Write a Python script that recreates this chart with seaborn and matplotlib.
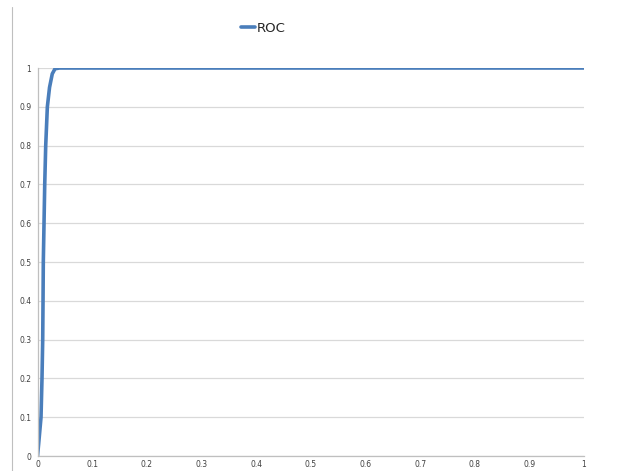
import numpy as np
import pandas as pd
import matplotlib
matplotlib.use("Agg")
import matplotlib.pyplot as plt
from matplotlib.lines import Line2D
import seaborn as sns

# ROC curve
fpr = [0, 0.002, 0.0064, 0.0082, 0.0095, 0.0101, 0.0106, 0.0119, 0.0132,
       0.015, 0.018, 0.022, 0.027, 0.032, 0.04, 1.0]
tpr = [0, 0.03, 0.1, 0.2, 0.3, 0.4, 0.5, 0.6, 0.7,
       0.8, 0.9, 0.95, 0.985, 0.998, 1.0, 1.0]
xticks = [0, 0.1, 0.2, 0.3, 0.4, 0.5, 0.6, 0.7, 0.8, 0.9, 1]
xtick_labels = ["0", "0.1", "0.2", "0.3", "0.4", "0.5", "0.6", "0.7", "0.8", "0.9", "1"]
yticks = xticks
ytick_labels = xtick_labels

sns.set_style("white")
plt.rcParams['font.family'] = ['DejaVu Sans']

df = pd.DataFrame({"fpr": fpr, "tpr": tpr})

fig = plt.figure(figsize=(6.38, 4.71), dpi=100)
ax = fig.add_axes([0.0588, 0.0318, 0.9154 - 0.0588, 0.8556 - 0.0318])

blue = "#4a7ebb"
sns.lineplot(data=df, x="fpr", y="tpr", ax=ax, sort=False, estimator=None,
             color=blue, linewidth=2.6, solid_capstyle="round", label="ROC")

ax.set_xlim(0, 1)
ax.set_ylim(0, 1)
ax.set_xticks(xticks)
ax.set_xticklabels(xtick_labels)
ax.set_yticks(yticks)
ax.set_yticklabels(ytick_labels)
ax.set_xlabel("")
ax.set_ylabel("")
ax.yaxis.grid(True, color="#d9d9d9", linewidth=0.9)
ax.xaxis.grid(False)
ax.set_axisbelow(True)

for s in ["top", "right"]:
    ax.spines[s].set_visible(False)
for s in ["left", "bottom"]:
    ax.spines[s].set_color("#bfbfbf")
    ax.spines[s].set_linewidth(0.9)

ax.tick_params(axis="both", which="both", labelsize=5.5, colors="#bfbfbf",
               labelcolor="#404040", direction="out", length=2.5, width=0.8, pad=2)
ax.tick_params(axis="x", pad=0.5)

ax.get_legend().remove()
handle = Line2D([0], [0], color=blue, linewidth=2.6)
fig.legend([handle], ["ROC"], loc="center", bbox_to_anchor=(0.412, 0.94),
           frameon=False, fontsize=9.5, handlelength=1.1, handletextpad=0.1,
           labelcolor="#262626")

# left border of the chart area
fig.add_artist(Line2D([0.019, 0.019], [0.0, 0.985], color="#bfbfbf", linewidth=0.8))

fig.savefig("out.png", dpi=100)
